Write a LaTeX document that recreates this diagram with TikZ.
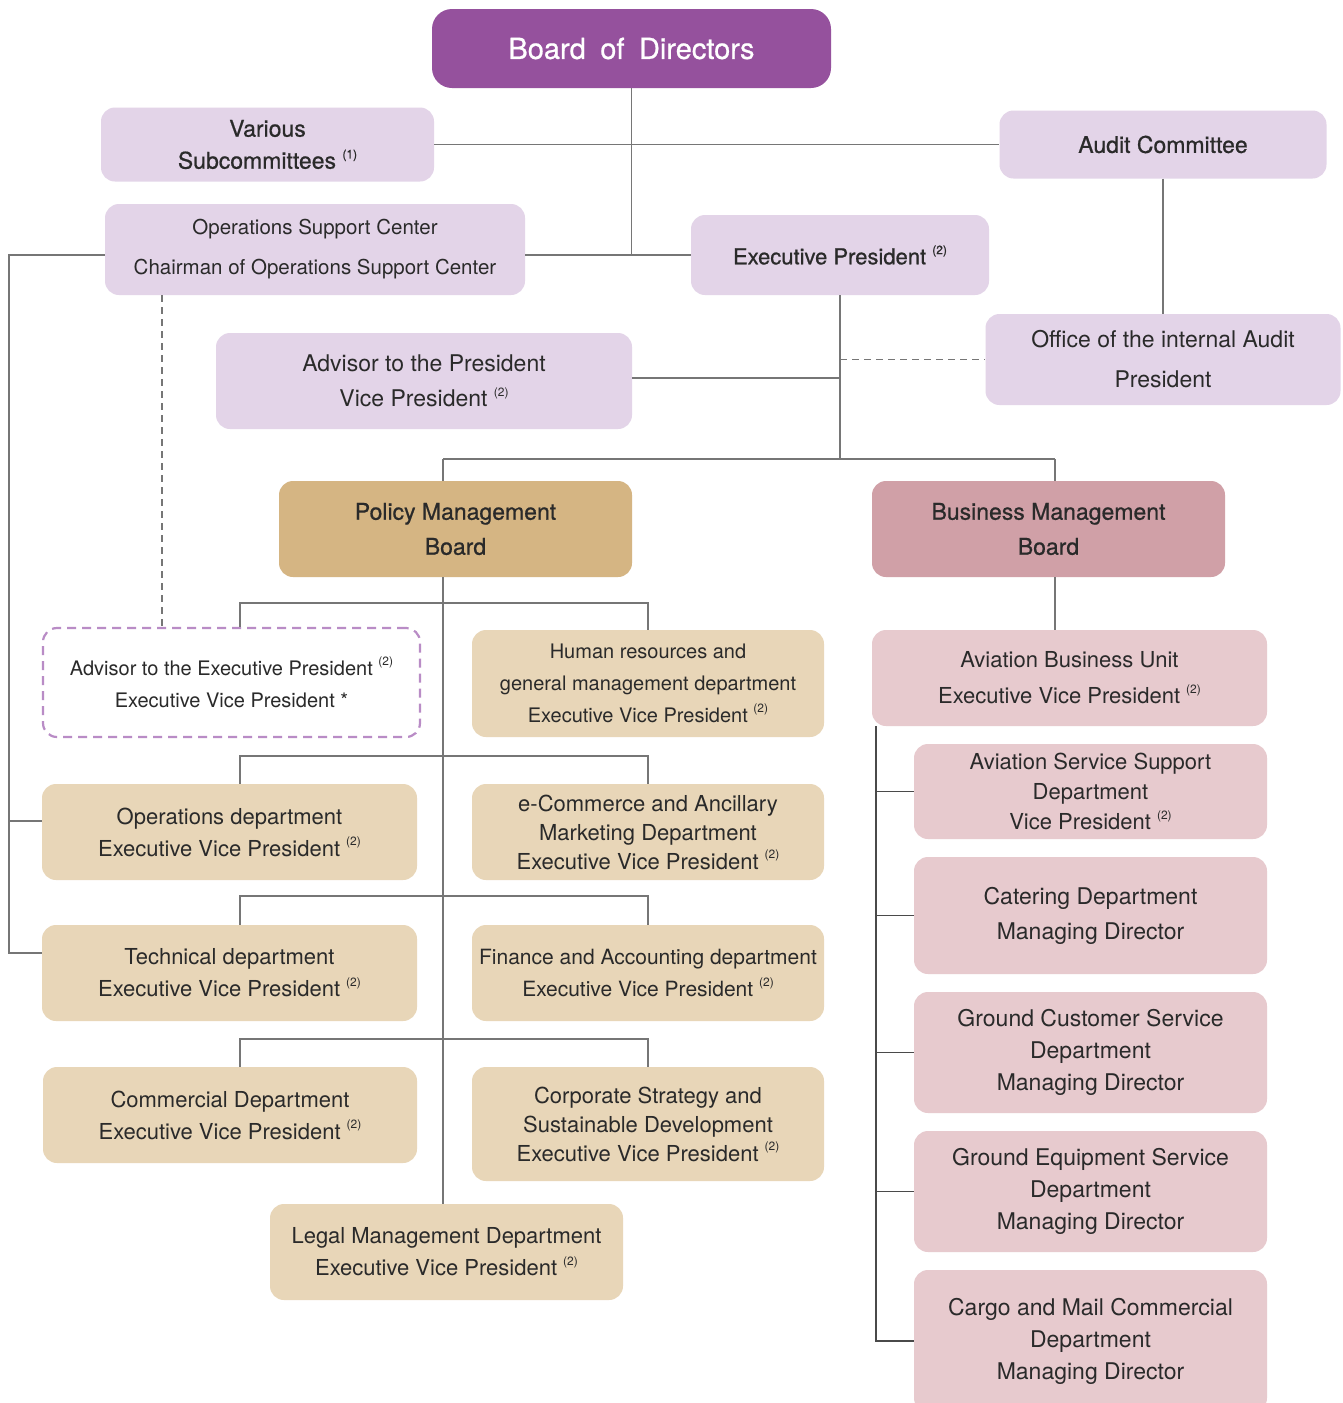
\documentclass[tikz,border=0pt]{standalone}
\usepackage{fontspec}
\setmainfont{TeX Gyre Heros}
\newfontfamily\medfont{TeX Gyre Heros}[FakeBold=0.7]

\definecolor{bodpurple}{HTML}{95519D}
\definecolor{lavender}{HTML}{E3D4E8}
\definecolor{policytan}{HTML}{D5B583}
\definecolor{businessrose}{HTML}{D0A0A7}
\definecolor{beige}{HTML}{E8D6B8}
\definecolor{blush}{HTML}{E7CACE}
\definecolor{dashpurple}{HTML}{B98CC6}
\definecolor{linegray}{HTML}{767676}
\definecolor{ink}{HTML}{2A2A2A}

\newcommand\fnote[1]{{\fontsize{12}{12}\selectfont\raisebox{0.85em}{(#1)}}}

\tikzset{
  box/.style={rounded corners=14pt, align=center, inner sep=0pt, text=ink,
    font=\fontsize{22}{32}\selectfont},
  txt/.style 2 args={font=\fontsize{#1}{#2}\selectfont},
  headtxt/.style 2 args={font=\medfont\fontsize{#1}{#2}\selectfont},
  wh/.style 2 args={minimum width=#1, minimum height=#2},
  lavbox/.style={box, fill=lavender},
  tanbox/.style={box, fill=beige},
  rosebox/.style={box, fill=blush},
  link/.style={draw=linegray, line width=1.3pt},
  dashlink/.style={link, dash pattern=on 7pt off 5pt}
}

\begin{document}
\begin{tikzpicture}[x=1pt,y=-1pt]

  \path[use as bounding box, fill=white] (0,0) rectangle (1342,1403);
  \clip (0,0) rectangle (1342,1403);

  % top
  \node[box, fill=bodpurple, text=white, rounded corners=20pt, wh={399}{79},
        headtxt={29}{32}](bod) at (631.5,48.5) {Board\enspace of\enspace Directors};
  \node[lavbox, headtxt={23}{32}, wh={333}{74}](vs) at (267.5,144.5) {Various\\Subcommittees \fnote{1}};
  \node[lavbox, headtxt={23}{32}, wh={327}{68}](ac) at (1163,144.5) {Audit Committee};
  \node[lavbox, txt={20.5}{40}, wh={420}{91}](osc) at (315,249.5) {Operations Support Center\\Chairman of Operations Support Center};
  \node[lavbox, headtxt={22}{32}, wh={298}{80}](ep) at (840,255) {Executive President \fnote{2}};
  \node[lavbox, txt={23}{40}, wh={355}{91}](oia) at (1163,359.5) {Office of the internal Audit\\President};
  \node[lavbox, txt={23}{35}, wh={416}{96}](atp) at (424,381) {Advisor to the President\\Vice President \fnote{2}};

  % boards
  \node[box, fill=policytan, headtxt={23}{35}, wh={353}{96}](pmb) at (455.5,529) {Policy Management\\Board};
  \node[box, fill=businessrose, headtxt={23}{35}, wh={353}{96}](bmb) at (1048.5,529) {Business Management\\Board};

  % policy side
  \node[box, draw=dashpurple, line width=2.2pt, dash pattern=on 9pt off 6pt, txt={20}{32}, wh={377}{109}](aep) at (231.5,682.5)
        {Advisor to the Executive President \fnote{2}\\Executive Vice President *};
  \node[tanbox, txt={20}{32}, wh={352}{107}](hr) at (648,683.5) {Human resources and\\general management department\\Executive Vice President \fnote{2}};
  \node[tanbox, wh={375}{96}](ops) at (229.5,832) {Operations department\\Executive Vice President \fnote{2}};
  \node[tanbox, txt={22}{29}, wh={352}{96}](ecom) at (648,832) {e-Commerce and Ancillary\\Marketing Department\\Executive Vice President \fnote{2}};
  \node[tanbox, wh={375}{96}](tech) at (229.5,973) {Technical department\\Executive Vice President \fnote{2}};
  \node[tanbox, txt={21}{32}, wh={352}{96}](fin) at (648,973) {Finance and Accounting department\\Executive Vice President \fnote{2}};
  \node[tanbox, wh={374}{96}](com) at (230,1115) {Commercial Department\\Executive Vice President \fnote{2}};
  \node[tanbox, txt={22}{29}, wh={352}{114}](cs) at (648,1124) {Corporate Strategy and\\Sustainable Development\\Executive Vice President \fnote{2}};
  \node[tanbox, wh={353}{96}](legal) at (446.5,1252) {Legal Management Department\\Executive Vice President \fnote{2}};

  % business side
  \node[rosebox, txt={22}{36}, wh={395}{96}](abu) at (1069.5,678) {Aviation Business Unit\\Executive Vice President \fnote{2}};
  \node[rosebox, txt={22}{30}, wh={353}{95}](ass) at (1090.5,791.5) {Aviation Service Support\\Department\\Vice President \fnote{2}};
  \node[rosebox, txt={23}{35}, wh={353}{117}](cat) at (1090.5,915.5) {Catering Department\\Managing Director};
  \node[rosebox, txt={23}{32}, wh={353}{121}](gcs) at (1090.5,1052.5) {Ground Customer Service\\Department\\Managing Director};
  \node[rosebox, txt={23}{32}, wh={353}{121}](ges) at (1090.5,1191.5) {Ground Equipment Service\\Department\\Managing Director};
  \node[rosebox, txt={23}{32}, wh={353}{142}](cargo) at (1090.5,1341) {Cargo and Mail Commercial\\Department\\Managing Director};

  % connectors
  \coordinate (rail) at (9,255);
  \coordinate (pl) at (443,459);
  \coordinate (bl) at (1055,459);

  \draw[link] (bod.south) -- (bod.south |- ep.west);
  \draw[link] (vs.east) -- (ac.west);
  \draw[link] (osc.east |- ep.west) -- (ep.west);
  \draw[link] (ac.south) -- (oia.north);
  \draw[link] (ep.south) -- (ep.south |- pl);
  \draw[dashlink] (ep.south |- oia.west) -- (oia.west);
  \draw[link] (atp.east |- 0,378) -- (ep.south |- 0,378);
  \draw[link] (pl) -- (bl);
  \draw[link] (pl) -- (pl |- pmb.north);
  \draw[link] (bl) -- (bl |- bmb.north);
  \draw[link] (pl |- pmb.south) -- (pl |- legal.north);
  \draw[link] (bl |- bmb.south) -- (bl |- abu.north);

  \foreach \y/\l/\r in {603/aep/hr, 756/ops/ecom, 896/tech/fin, 1039/com/cs} {
    \coordinate (a) at (240,\y);
    \coordinate (b) at (648,\y);
    \draw[link] (a |- \l.north) -- (a) -- (b) -- (b |- \r.north);
  }

  \draw[link] (osc.west |- rail) -- (rail) -- (rail |- 0,953) -- (tech.west |- 0,953);
  \draw[link] (rail |- 0,821) -- (ops.west |- 0,821);
  \draw[dashlink] (osc.south -| 162,0) -- (aep.north -| 162,0);

  \draw[link, draw=ink!85] (abu.south -| 876,0) |- (cargo.west);
  \foreach \n in {ass,cat,gcs,ges}
    \draw[link, draw=ink!85] (876,0 |- \n.west) -- (\n.west);
\end{tikzpicture}
\end{document}
